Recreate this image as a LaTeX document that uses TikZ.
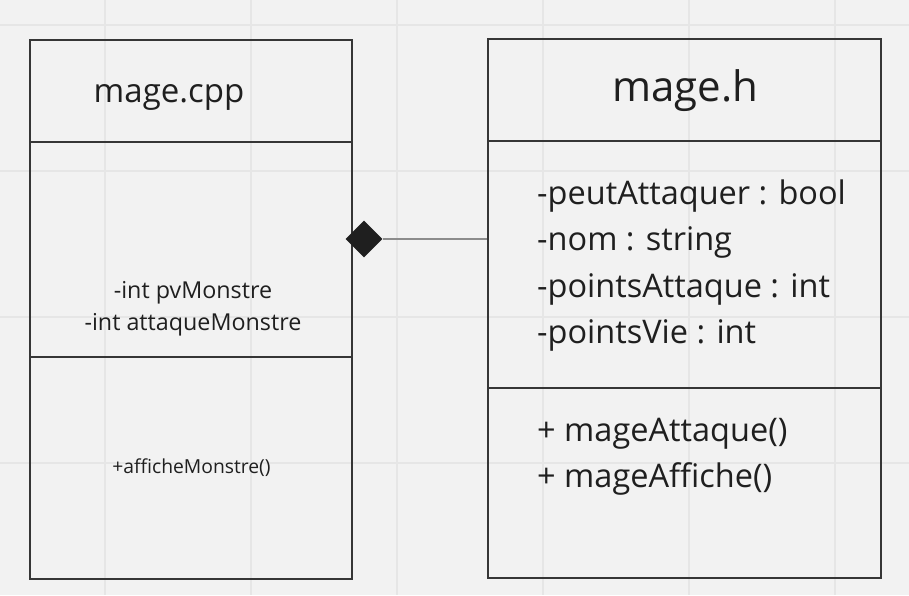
\documentclass[tikz,border=0pt]{standalone}
\usepackage{fontspec}
\setmainfont{Open Sans}
\usetikzlibrary{shapes.geometric}

\definecolor{canvas}{HTML}{F2F2F2}
\definecolor{gridline}{HTML}{E6E6E6}
\definecolor{ink}{HTML}{1F1F1F}
\definecolor{frame}{HTML}{363636}
\definecolor{wire}{HTML}{8C8C8C}

\begin{document}
\begin{tikzpicture}[x=1pt,y=-1pt,
 part/.style={draw=frame,line width=1.1pt,inner sep=0pt},
 txt/.style={text=ink,inner sep=0pt},
 link/.style={draw=wire,line width=1.3pt}]
% canvas and grid
\fill[canvas] (0,0) rectangle (909,595);
\useasboundingbox (0,0) rectangle (909,595);
\foreach \gx in {105,251,...,835} \draw[gridline,line width=1.2pt] (\gx,0) -- (\gx,595);
\foreach \gy in {25,171,317,463} \draw[gridline,line width=1.2pt] (0,\gy) -- (909,\gy);
% mage.cpp
\node[part,minimum width=322,minimum height=102] (cpphead) at (191,91) {};
\node[part,minimum width=322,minimum height=215] (cppattr) at (191,249.5) {};
\node[part,minimum width=322,minimum height=222] (cppmeth) at (191,468) {};
\node[txt,font=\fontsize{33}{40}\selectfont,anchor=base] (cppname) at (169,102.5) {mage.cpp};
\node[txt,font=\fontsize{23.3}{32}\selectfont,align=center,anchor=base] (cppattrs) at (193,330) {-int pvMonstre\\-int attaqueMonstre};
\node[txt,font=\fontsize{19.3}{24}\selectfont,anchor=base] (cppops) at (191.5,473) {+afficheMonstre()};
% mage.h
\node[part,minimum width=393,minimum height=102] (hhead) at (684.5,90) {};
\node[part,minimum width=393,minimum height=247] (hattr) at (684.5,264.5) {};
\node[part,minimum width=393,minimum height=190] (hmeth) at (684.5,483) {};
\node[txt,font=\fontsize{42}{50}\selectfont,anchor=base] (hname) at (685,101) {mage.h};
\node[txt,font=\fontsize{32.5}{46.5}\selectfont,align=left,anchor=base west] (hattrs) at (537,343.5)
 {-peutAttaquer : bool\\-nom : string\\-pointsAttaque : int\\-pointsVie : int};
\node[txt,font=\fontsize{32.5}{46.5}\selectfont,align=left,anchor=base west] (hops) at (537,487.5)
 {+ mageAttaque()\\+ mageAffiche()};
% composition
\node[diamond,fill=ink,minimum width=37,minimum height=37,inner sep=0pt] (agg) at (364,239) {};
\draw[link] (agg.east) -- (agg -| hattr.west);
\end{tikzpicture}
\end{document}
